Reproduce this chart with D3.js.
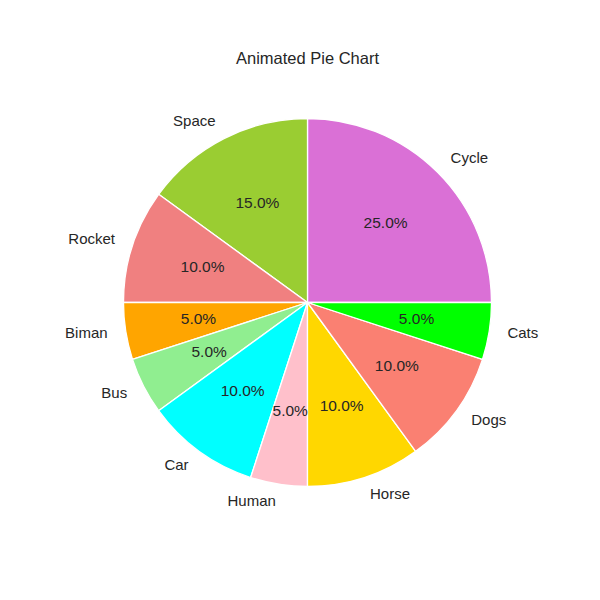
<!DOCTYPE html>
<html><head><meta charset="utf-8">
<script src="https://cdn.jsdelivr.net/npm/d3@7"></script>
<style>body{margin:0;background:#fff}</style>
</head><body>
<svg id="c" width="600" height="600"></svg>
<script>
const categories = ["Cycle","Space","Rocket","Biman","Bus","Car","Human","Horse","Dogs","Cats"];
const values = [25,15,10,5,5,10,5,10,10,5];
const colors = ["orchid","yellowgreen","lightcoral","orange","lightgreen","cyan","pink","gold","salmon","lime"];
const title = "Animated Pie Chart";

const svg = d3.select("#c");
const cx = 307.5, cy = 302.5, r = 184;
const font = "'Liberation Sans', Arial, sans-serif";
const txt = "#262626";

svg.append("text").attr("x", 307.5).attr("y", 58).attr("text-anchor","middle")
  .attr("dominant-baseline","central").attr("font-family",font).attr("font-size",16.5)
  .attr("fill",txt).text(title);

const total = d3.sum(values);
// matplotlib: start at 0 deg, counterclockwise. d3 angles: 0 at top, clockwise.
const pie = d3.pie().sort(null).value(d=>d).startAngle(Math.PI/2).endAngle(Math.PI/2 - 2*Math.PI);
const arcs = pie(values);
const arc = d3.arc().innerRadius(0).outerRadius(r);
const g = svg.append("g").attr("transform",`translate(${cx},${cy})`);

g.selectAll("path").data(arcs).join("path")
  .attr("d", arc).attr("fill",(d,i)=>colors[i])
  .attr("stroke","#fff").attr("stroke-width",1.3).attr("stroke-linejoin","round");

function mid(d){ return (d.startAngle + d.endAngle)/2; }
g.selectAll("text.lab").data(arcs).join("text").attr("class","lab")
  .attr("x", d=>1.1*r*Math.sin(mid(d)))
  .attr("y", d=>-1.1*r*Math.cos(mid(d)) - 1.8)
  .attr("text-anchor", d=>Math.sin(mid(d))>0?"start":"end")
  .attr("dominant-baseline","central")
  .attr("font-family",font).attr("font-size",15).attr("fill",txt)
  .text((d,i)=>categories[i]);

g.selectAll("text.pct").data(arcs).join("text").attr("class","pct")
  .attr("x", d=>0.6*r*Math.sin(mid(d)))
  .attr("y", d=>-0.6*r*Math.cos(mid(d)) - 1.5)
  .attr("text-anchor","middle")
  .attr("dominant-baseline","central")
  .attr("font-family",font).attr("font-size",15.5).attr("fill",txt)
  .text(d=>(d.data/total*100).toFixed(1)+"%");
</script>
</body></html>
